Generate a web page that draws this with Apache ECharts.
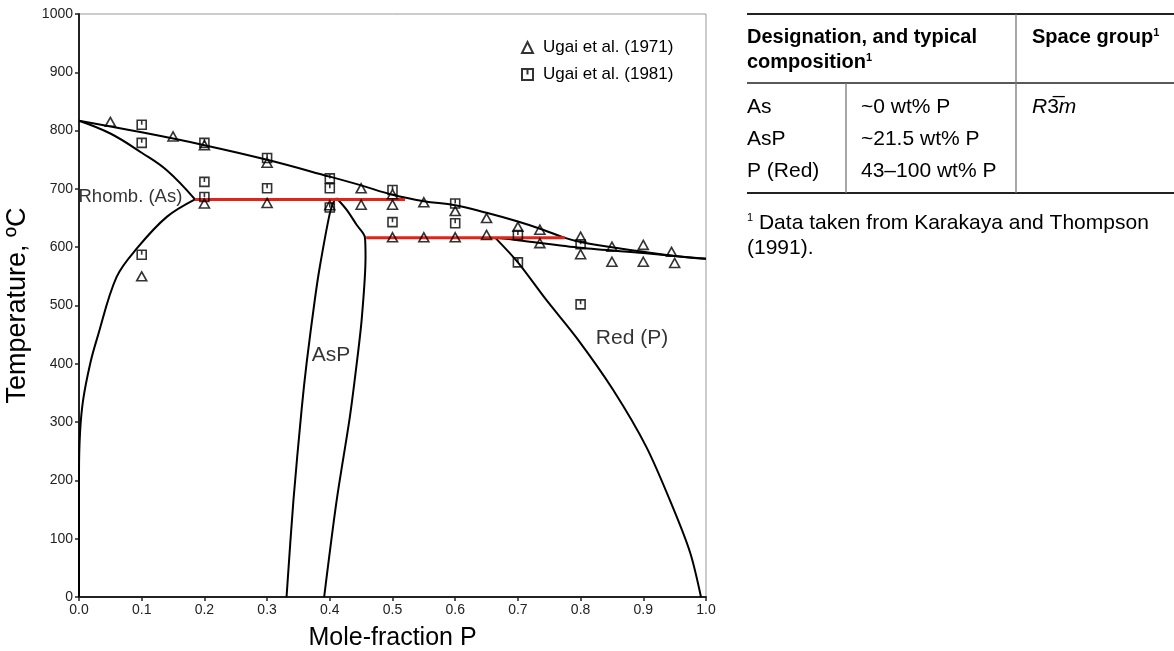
<!DOCTYPE html>
<html>
<head>
<meta charset="utf-8">
<script src="https://cdn.jsdelivr.net/npm/echarts@6/dist/echarts.min.js"></script>
<style>
  html, body { margin:0; padding:0; background:#fff; }
  #chart { width:1174px; height:651px; }
</style>
</head>
<body>
<div id="chart"></div>
<script>
// experimental points  [mole fraction P, temperature]
var ugai1971 = [[0.05,815],[0.1,550],[0.15,790],[0.2,775],[0.2,675],[0.3,745],[0.3,676],
  [0.4,672],[0.45,701],[0.45,673],[0.5,691],[0.5,673],[0.5,617],[0.55,677],[0.55,617],
  [0.6,662],[0.6,617],[0.65,650],[0.65,621],[0.7,635],[0.735,630],[0.735,607],
  [0.8,618],[0.8,588],[0.85,601],[0.85,575],[0.9,604],[0.9,575],[0.945,592],[0.95,573]];
var ugai1981 = [[0.1,810],[0.1,779],[0.1,587],[0.2,779],[0.2,712],[0.2,686],[0.3,753],[0.3,701],
  [0.4,718],[0.4,701],[0.4,668],[0.5,698],[0.5,643],[0.6,675],[0.6,641],[0.7,621],[0.7,574],
  [0.8,605],[0.8,502]];

// phase boundaries
var liquidus = [[0,817],[0.1,797],[0.2,775],[0.3,750],[0.4,721],[0.45,706],[0.5,690],[0.55,679],
  [0.6,672],[0.65,659],[0.7,644],[0.74,630],[0.775,616],[0.8,609],[0.85,600],[0.9,592],[0.95,585],[1,580]];
var solidusP = [[0.664,616],[0.7,612],[0.8,599],[0.9,590],[0.95,585],[1,580]];
var rhombSolidus = [[0,817],[0.05,795],[0.1,762],[0.14,732],[0.185,682]];
var rhombSolvus = [[0.185,682],[0.14,652],[0.094,600],[0.06,549],[0.029,444],
  [0.018,401],[0.0066,338],[0.0016,281],[0,210],[0,0]];
var aspLeft = [[0.331,0],[0.342,166],[0.355,321],[0.363,401],[0.376,509],[0.384,566],[0.4,658],[0.407,680],[0.411,684]];
var aspRight = [[0.411,684],[0.427,664],[0.443,638],[0.456,617],[0.457,583],[0.451,478],
  [0.443,401],[0.432,309],[0.411,166],[0.391,0]];
var redP = [[0.664,616],[0.7,574],[0.745,510],[0.794,444],[0.852,355],[0.905,257],[0.947,154],[0.975,75],[0.992,0]];
var eutectic = [[0.185,682],[0.52,682]];
var peritectic = [[0.458,616],[0.775,616]];

var regionNames = ['Rhomb. (As)', 'AsP', 'Red (P)'];
var regionPos = [[0.082,686], [0.402,415], [0.882,444]];

var tableHead = ['Designation, and typical', 'composition', 'Space group'];
var tableRows = [['As','~0 wt% P','R'], ['AsP','~21.5 wt% P',''], ['P (Red)','43–100 wt% P','']];
var footnote = ['Data taken from Karakaya and Thompson', '(1991).'];

var FONT = '"Liberation Sans", Arial, sans-serif';
var sqTick = 'path://M0,0L10,0L10,10L0,10Z M5,0L5,5';

function boundary(name, data, color, width, smooth) {
  return {
    name: name, type: 'line', data: data, showSymbol: false, smooth: smooth,
    lineStyle: { color: color, width: width }, silent: true, z: 2
  };
}

var chart = echarts.init(document.getElementById('chart'));

// table drawn with graphic elements
var g = [];
var L = 747, R = 1174, colA = 846, colB = 1016;
function hline(y, x1, x2, w) { g.push({type:'line', shape:{x1:x1,y1:y,x2:x2,y2:y}, style:{stroke:'#222', lineWidth:w}}); }
function vline(x, y1, y2) { g.push({type:'line', shape:{x1:x,y1:y1,x2:x,y2:y2}, style:{stroke:'#777', lineWidth:1.3}}); }
function txt(x, y, s, opt) {
  g.push({type:'text', x:x, y:y, style: Object.assign({text:s, fill:'#000', font:'21px ' + FONT, verticalAlign:'middle'}, opt || {})});
}
hline(14, L, R, 2);
hline(83, L, R, 1.5);
hline(193, L, R, 2);
vline(colB, 14, 193);
vline(colA, 83, 193);
var supRich = { s: { fontSize: 11, fontWeight: 'bold', fontFamily: FONT, verticalAlign: 'top', padding:[0,0,9,0] } };
txt(L, 37, tableHead[0], {font:'bold 20px ' + FONT});
txt(L, 62, tableHead[1] + '{s|1}', {font:'bold 20px ' + FONT, rich: supRich});
txt(1032, 37, tableHead[2] + '{s|1}', {font:'bold 20px ' + FONT, rich: supRich});
tableRows.forEach(function (r, i) {
  var y = 107 + i * 32;
  txt(L, y, r[0]);
  txt(861, y, r[1]);
  if (r[2]) {
    txt(1032, y, '{i|' + r[2] + '}{n|3\u0305}{i|m}', {rich: {
      i: {fontStyle:'italic', fontSize:21, fontFamily:FONT},
      n: {fontSize:21, fontFamily:FONT}
    }});
  }
});
txt(L, 223, '{s|1} ' + footnote[0], {rich: { s: { fontSize: 11, fontFamily: FONT, verticalAlign: 'top', padding:[0,0,10,0] } }});
txt(L, 248, footnote[1]);

chart.setOption({
  animation: false,
  textStyle: { fontFamily: FONT },
  grid: { left: 79, right: 468, top: 14, bottom: 54, show: true, borderColor: '#999', borderWidth: 1,
    outerBoundsMode: 'none' },
  legend: {
    orient: 'vertical', left: 516, top: 34, itemWidth: 11, itemHeight: 11, itemGap: 10,
    textStyle: { fontSize: 17, color: '#000', fontFamily: FONT, padding: [0, 0, 0, 5] },
    data: ['Ugai et al. (1971)', 'Ugai et al. (1981)']
  },
  xAxis: {
    type: 'value', min: 0, max: 1, interval: 0.1,
    name: 'Mole-fraction P', nameLocation: 'middle', nameGap: 29,
    nameTextStyle: { fontSize: 25, color: '#000' },
    axisLine: { lineStyle: { color: '#222', width: 2 } },
    axisTick: { show: true, length: 4, lineStyle: { color: '#222', width: 1.5 } },
    axisLabel: { color: '#222', fontSize: 14, margin: 6, formatter: function (v) { return v.toFixed(1); } },
    splitLine: { show: false }
  },
  yAxis: {
    type: 'value', min: 0, max: 1000, interval: 100,
    name: 'Temperature, ºC', nameLocation: 'middle', nameGap: 30,
    nameTextStyle: { fontSize: 27, color: '#000' },
    axisLine: { show: true, lineStyle: { color: '#222', width: 2 } },
    axisTick: { show: true, length: 4, lineStyle: { color: '#222', width: 1.5 } },
    axisLabel: { color: '#222', fontSize: 14, margin: 6, formatter: function (v) { return String(v); } },
    splitLine: { show: false }
  },
  graphic: g,
  series: [
    boundary('liq', liquidus, '#000', 2, 0.4),
    boundary('solP', solidusP, '#000', 2, 0.3),
    boundary('rs', rhombSolidus, '#000', 2, 0.4),
    boundary('rv', rhombSolvus, '#000', 2, 0.35),
    boundary('al', aspLeft, '#000', 2, 0.3),
    boundary('ar', aspRight, '#000', 2, 0.3),
    boundary('rp', redP, '#000', 2, 0.3),
    boundary('eu', eutectic, '#e2231a', 3, false),
    boundary('pe', peritectic, '#e2231a', 3, false),
    {
      name: 'Ugai et al. (1971)', type: 'scatter', data: ugai1971, symbol: 'triangle', symbolSize: [10, 9],
      itemStyle: { color: 'rgba(255,255,255,0)', borderColor: '#000', borderWidth: 1.6 }, z: 4
    },
    {
      name: 'Ugai et al. (1981)', type: 'scatter', data: ugai1981, symbol: sqTick, symbolSize: 9,
      itemStyle: { color: 'rgba(255,255,255,0)', borderColor: '#000', borderWidth: 1.6 }, z: 4
    },
    {
      name: 'regions', type: 'scatter', symbolSize: 0, silent: true, z: 5,
      data: regionNames.map(function (n, i) {
        return { name: n, value: regionPos[i], label: { fontSize: i === 0 ? 18.5 : 21 } };
      }),
      label: { show: true, formatter: '{b}', position: [0, 0], align: 'center', verticalAlign: 'middle',
        color: '#000', fontFamily: FONT }
    }
  ]
});
</script>
</body>
</html>
